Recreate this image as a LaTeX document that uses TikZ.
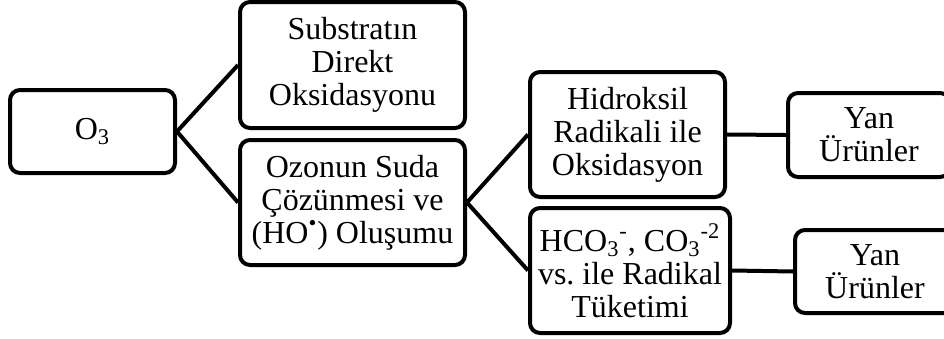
\documentclass[tikz,border=0pt]{standalone}
\usepackage{fontspec}
\setmainfont{Liberation Serif}
\usepackage{tikz}
\usetikzlibrary{positioning}
\tikzset{
  % Process box: rounded, thick outline
  proc/.style={
    rectangle, rounded corners=5pt,
    draw=black, line width=2pt, fill=white,
    minimum width=#1, inner sep=1pt,
    align=center, font=\fontsize{16}{16.5}\selectfont
  },
  proc/.default=100pt,
  % Connector
  lnk/.style={line width=2pt, draw=black}
}

\begin{document}
\begin{tikzpicture}[x=0.5pt, y=-0.5pt]
  \useasboundingbox (0,0) rectangle (944,338);

  \node[proc=82.5pt,  minimum height=41.5pt] (o3)       at (92.5,131.5) {O\textsubscript{3}};
  \node[proc=112.5pt, minimum height=63pt]   (direct)   at (352.5,65)   {Substratın\\Direkt\\Oksidasyonu};
  \node[proc=112.5pt, minimum height=62.5pt] (solve)    at (352.5,202.5){Ozonun Suda\\Çözünmesi ve\\(HO\textsuperscript{\textbullet}) Oluşumu};
  \node[proc=97.5pt,  minimum height=62.5pt] (hydroxyl) at (627.5,134.5){Hidroksil\\Radikali ile\\Oksidasyon};
  \node[proc=100pt,   minimum height=62.5pt] (scav)     at (630,270.5)  {HCO\textsubscript{3}\textsuperscript{-}, CO\textsubscript{3}\textsuperscript{-2}\\vs.\ ile Radikal\\Tüketimi};
  \node[proc=81pt,    minimum height=42pt]   (prod1)    at (869,135)    {Yan\\Ürünler};
  \node[proc=80pt,    minimum height=41.5pt] (prod2)    at (875,271.5)  {Yan\\Ürünler};

  \draw[lnk] (o3.east)       -- (direct.west);
  \draw[lnk] (o3.east)       -- (solve.west);
  \draw[lnk] (solve.east)    -- (hydroxyl.west);
  \draw[lnk] (solve.east)    -- (scav.west);
  \draw[lnk] (hydroxyl.east) -- (prod1.west);
  \draw[lnk] (scav.east)     -- (prod2.west);
\end{tikzpicture}
\end{document}
